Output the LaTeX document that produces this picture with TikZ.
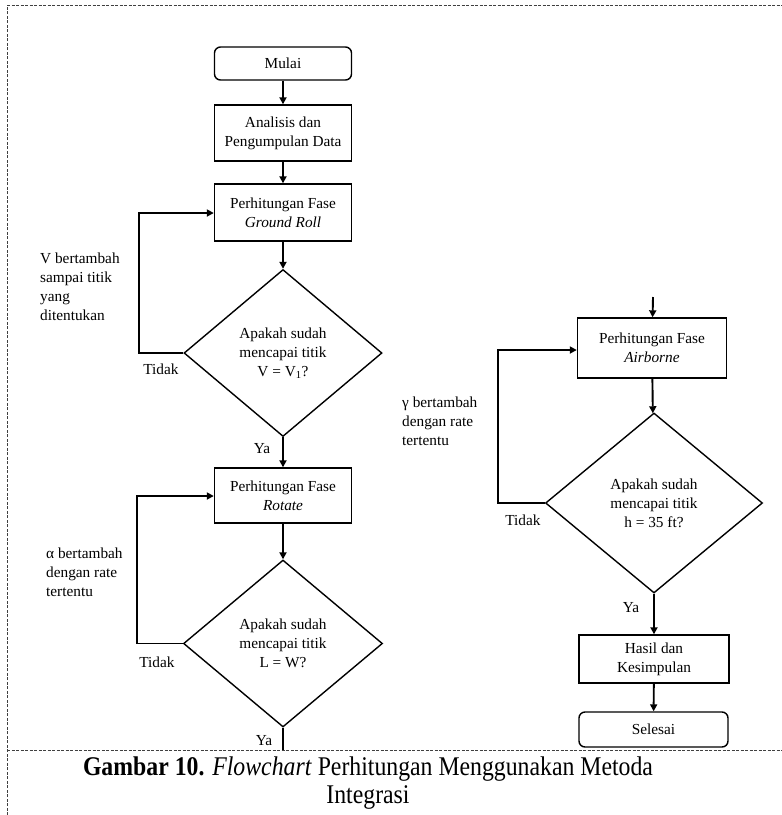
\documentclass[tikz,border=0pt]{standalone}
\usepackage{fontspec}
\setmainfont{Liberation Serif}
\usetikzlibrary{shapes.geometric,arrows.meta}
\begin{document}
\begin{tikzpicture}[x=1pt,y=-1pt,
  txt/.style={font=\fontsize{15.3}{18.8}\selectfont},
  procbox/.style={draw,line width=1.4pt,txt,align=center,inner sep=0pt,minimum width=137pt},
  termbox/.style={procbox,rounded corners=6pt},
  decision/.style={draw,line width=1.4pt,diamond,txt,align=center,inner sep=0pt},
  flow/.style={line width=1.9pt,-{Triangle[length=7pt,width=7pt]}},
  plain/.style={line width=1.9pt},
  lbl/.style={txt,inner sep=0pt},
  note/.style={txt,align=left,inner sep=0pt,anchor=north west},
  border/.style={draw=black!75,line width=0.8pt,dash pattern=on 3pt off 1.5pt}
]
\useasboundingbox (0,0) rectangle (782,815);
% border
\draw[border] (7,815) -- (7,5) -- (782,5);
\draw[border] (7,750) -- (782,750);

% left column
\node[termbox,minimum height=33pt] (mulai) at (283,63.5) {Mulai};
\node[procbox,minimum height=56pt] (analisis) at (283,133) {Analisis dan\\Pengumpulan Data};
\node[procbox,minimum height=57pt] (ground) at (283,212.5) {Perhitungan Fase\\\textit{Ground Roll}};
\node[decision,minimum width=198pt,minimum height=167pt] (d1) at (283,353) {Apakah sudah\\mencapai titik\\V = V\textsubscript{1}?};
\node[procbox,minimum height=55pt] (rotate) at (283,495.5) {Perhitungan Fase\\\textit{Rotate}};
\node[decision,minimum width=199pt,minimum height=167pt] (d2) at (283,643.5) {Apakah sudah\\mencapai titik\\L = W?};
\coordinate (d2out) at (283,750);

\draw[flow] (mulai) -- (analisis);
\draw[flow] (analisis) -- (ground);
\draw[flow] (ground) -- (d1);
\draw[flow] (d1) -- (rotate);
\draw[flow] (rotate) -- (d2);
\draw[plain] (d2.south) -- (d2out);

\draw[flow] (d1.west) -- (139,353) -- (139,213) -- (ground.west |- 0,213);
\draw[flow] (d2.west) -- (137,643.5) -- (137,496) -- (rotate.west |- 0,496);

\node[lbl] (t1) at (161,369) {Tidak};
\node[lbl] (t2) at (157,662) {Tidak};
\node[lbl] (y1) at (262,449) {Ya};
\node[lbl] (y2) at (264,741) {Ya};

\node[note] (n1) at (40,253) {V bertambah\\sampai titik\\yang\\ditentukan};
\node[note] (n2) at (46,548) {α bertambah\\dengan rate\\tertentu};

% right column
\coordinate (rin) at (653,297);
\node[procbox,minimum width=149pt,minimum height=60pt] (air) at (652,348) {Perhitungan Fase\\\textit{Airborne}};
\node[decision,minimum width=217pt,minimum height=180pt] (d3) at (654,503) {Apakah sudah\\mencapai titik\\h = 35 ft?};
\node[procbox,minimum width=150pt,minimum height=48pt] (hasil) at (654,659) {Hasil dan\\Kesimpulan};
\node[termbox,minimum width=149pt,minimum height=35pt] (selesai) at (653.5,729.5) {Selesai};

\draw[flow] (rin) -- (air);
\draw[flow] (air) -- (d3);
\draw[flow] (d3) -- (hasil);
\draw[flow] (hasil) -- (selesai);
\draw[flow] (d3.west) -- (498,503) -- (498,350) -- (air.west |- 0,350);

\node[lbl] (t3) at (523,520) {Tidak};
\node[lbl] (y3) at (631,608) {Ya};
\node[note] (n3) at (402,397) {γ bertambah\\dengan rate\\tertentu};

% caption
\node[font=\fontsize{27}{28}\selectfont,align=center,inner sep=0pt] (cap) at (368,783)
  {\scalebox{0.88}[1]{\textbf{Gambar 10.} \textit{Flowchart} Perhitungan Menggunakan Metoda}\\\scalebox{0.88}[1]{Integrasi}};
\end{tikzpicture}
\end{document}
